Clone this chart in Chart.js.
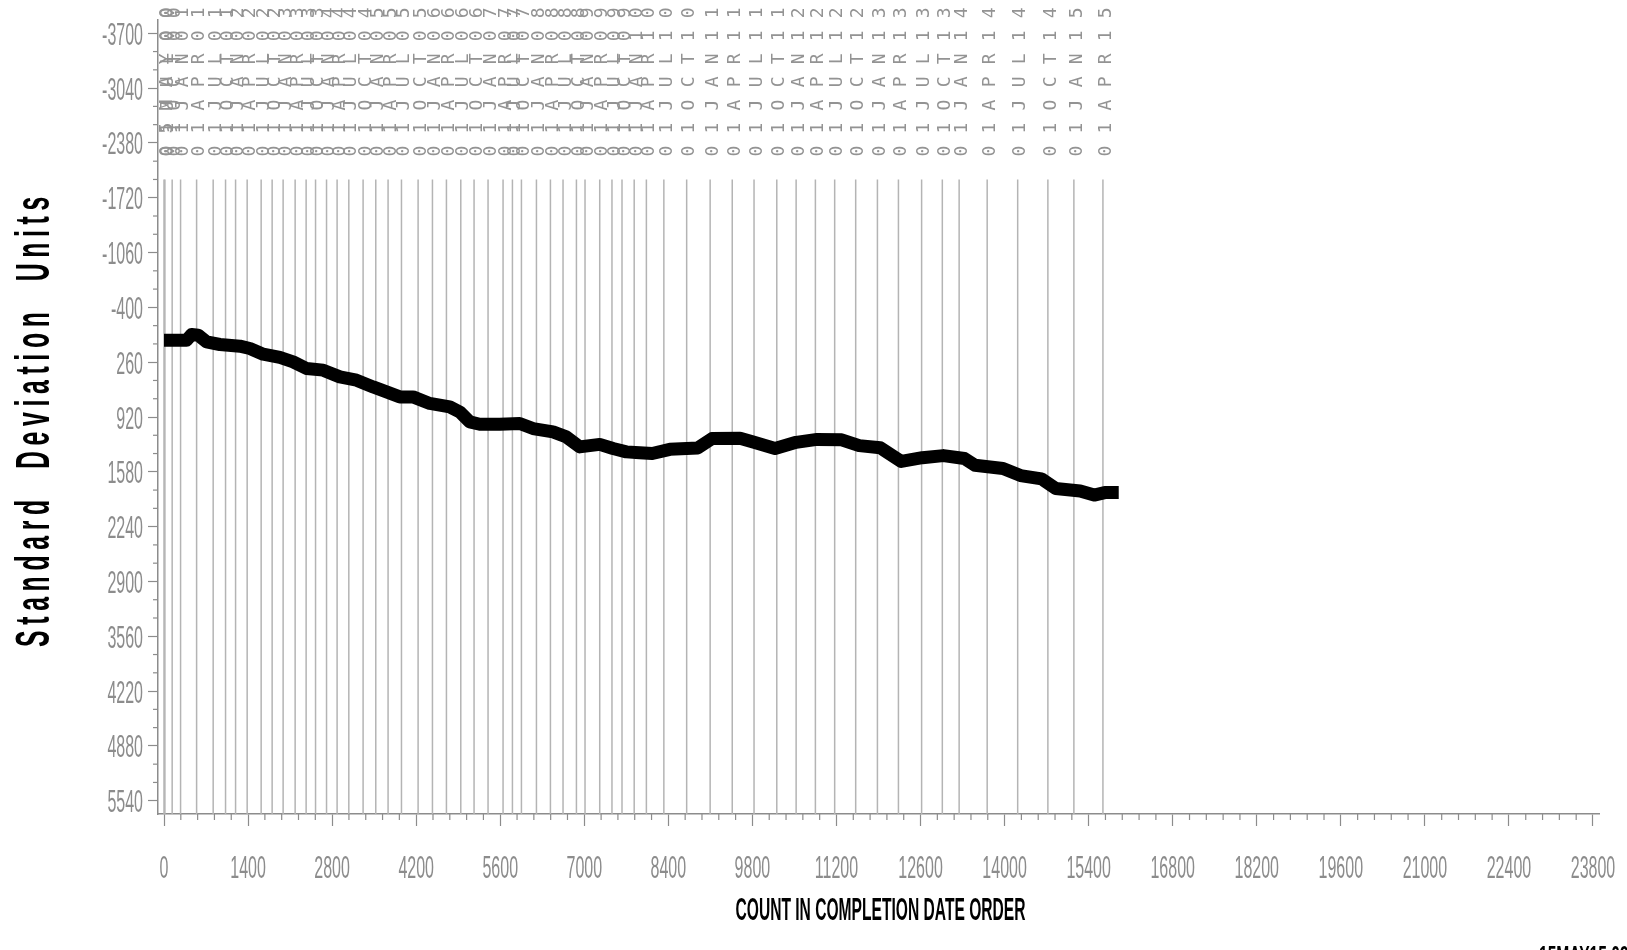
<!DOCTYPE html>
<html>
<head>
<meta charset="utf-8">
<script src="https://cdn.jsdelivr.net/npm/chart.js@4/dist/chart.umd.min.js"></script>
<style>
  html, body { margin: 0; padding: 0; background: #fff; overflow: hidden; }
  #wrap { width: 1627px; height: 950px; position: relative; }
</style>
</head>
<body>
<div id="wrap"><canvas id="chart"></canvas></div>
<script>
// cumulative count (x) vs standard deviation units (y)
const countX = [0, 376, 459, 569, 709, 931, 1264, 1430, 1651, 1929, 2151, 2374, 2650, 2928,
  3206, 3483, 3706, 3927, 4148, 4426, 4759, 4926, 5092, 5259, 5592, 5924, 6146, 6479, 6702,
  6923, 7257, 7478, 7700, 7922, 8132, 8425, 8891, 9126, 9594, 9827, 10177, 10528, 10877,
  11287, 11578, 11929, 12280, 12630, 12981, 13331, 13506, 13974, 14265, 14616, 14849, 15259,
  15492, 15668, 15901];
const sdUnits = [-5, -5, -74, -65, 16, 47, 67, 95, 164, 203, 256, 336, 356, 437,
  477, 558, 618, 678, 678, 757, 798, 859, 979, 1007, 1007, 998, 1059, 1100, 1160,
  1280, 1250, 1300, 1340, 1350, 1360, 1309, 1292, 1180, 1175, 1225, 1300, 1225, 1190,
  1195, 1265, 1290, 1455, 1410, 1385, 1420, 1500, 1540, 1625, 1665, 1780, 1810,
  1860, 1830, 1830];

// completion date reference lines
const dateLabels = ['05MAY00', '01JUL00', '01OCT00',
  '01JAN01', '01APR01', '01JUL01', '01OCT01', '01JAN02', '01APR02', '01JUL02', '01OCT02',
  '01JAN03', '01APR03', '01JUL03', '01OCT03', '01JAN04', '01APR04', '01JUL04', '01OCT04',
  '01JAN05', '01APR05', '01JUL05', '01OCT05', '01JAN06', '01APR06', '01JUL06', '01OCT06',
  '01JAN07', '01APR07', '01JUL07', '01OCT07', '01JAN08', '01APR08', '01JUL08', '01OCT08',
  '01JAN09', '01APR09', '01JUL09', '01OCT09', '01JAN10', '01APR10', '01JUL10', '01OCT10',
  '01JAN11', '01APR11', '01JUL11', '01OCT11', '01JAN12', '01APR12', '01JUL12', '01OCT12',
  '01JAN13', '01APR13', '01JUL13', '01OCT13', '01JAN14', '01APR14', '01JUL14', '01OCT14',
  '01JAN15', '01APR15'];
const dateCounts = [0, 15, 136,
  276, 543, 819, 1025, 1192, 1385, 1618, 1801,
  1984, 2184, 2367, 2524, 2707, 2883, 3078, 3316,
  3527, 3732, 3955, 4232, 4471, 4704, 4943, 5164,
  5397, 5647, 5803, 5953, 6203, 6436, 6646, 6869,
  7012, 7257, 7461, 7628, 7831, 8034, 8325, 8705,
  9096, 9464, 9827, 10206, 10528, 10849, 11170, 11520,
  11882, 12232, 12618, 12963, 13243, 13710, 14218, 14721,
  15154, 15638];

const xMajorTicks = [0, 1400, 2800, 4200, 5600, 7000, 8400, 9800, 11200, 12600, 14000,
  15400, 16800, 18200, 19600, 21000, 22400, 23800];
const yMajorTicks = [-3700, -3040, -2380, -1720, -1060, -400, 260, 920, 1580, 2240,
  2900, 3560, 4220, 4880, 5540];
const X_MINOR_PER = 5;
const Y_MINOR_PER = 3;
const DATE_LINE_TOP = -1940;

const X_TITLE = 'COUNT IN COMPLETION DATE ORDER';
const Y_TITLE = 'Standard  Deviation  Units';
const STAMP = '15MAY15 09:58';

function withMinors(majors, per) {
  const out = [];
  for (let i = 0; i < majors.length; i++) {
    out.push({ value: majors[i], major: true });
    if (i < majors.length - 1) {
      const step = (majors[i + 1] - majors[i]) / per;
      for (let k = 1; k < per; k++) out.push({ value: majors[i] + k * step, major: false });
    }
  }
  return out;
}

const axisGrey = '#8c8c8c';
const labelFont = "32px 'Liberation Sans', sans-serif";
const titleFamily = "'Liberation Sans', sans-serif";

// draw text squeezed horizontally (the original uses a very narrow font)
function squeezed(ctx, text, x, y, sx, align) {
  ctx.save();
  ctx.translate(x, y);
  ctx.scale(sx, 1);
  ctx.textAlign = align;
  ctx.fillText(text, 0, 0);
  ctx.restore();
}

// text fitted to a given length, centred on (cx, cy), optionally rotated
function fitted(ctx, text, cx, cy, len, rot) {
  ctx.save();
  ctx.translate(cx, cy);
  if (rot) ctx.rotate(rot);
  const w = ctx.measureText(text).width;
  ctx.scale(len / w, 1);
  ctx.textAlign = 'center';
  ctx.textBaseline = 'middle';
  ctx.fillText(text, 0, 0);
  ctx.restore();
}

const dateLines = {
  id: 'dateLines',
  beforeDatasetsDraw(chart) {
    const { ctx, chartArea, scales: { x, y } } = chart;
    ctx.save();
    ctx.strokeStyle = '#b4b4b4';
    ctx.lineWidth = 1.5;
    const top = y.getPixelForValue(DATE_LINE_TOP);
    dateCounts.forEach(v => {
      const px = x.getPixelForValue(v);
      ctx.beginPath();
      ctx.moveTo(px, top);
      ctx.lineTo(px, chartArea.bottom);
      ctx.stroke();
    });
    ctx.restore();
  },
  afterDraw(chart) {
    const { ctx, chartArea, scales: { x, y } } = chart;
    ctx.save();

    // date labels, reading bottom to top
    ctx.fillStyle = '#939393';
    ctx.font = "18px 'DejaVu Sans Mono'";
    ctx.letterSpacing = '12.2px';
    ctx.textAlign = 'left';
    ctx.textBaseline = 'middle';
    const base = y.getPixelForValue(DATE_LINE_TOP) - 23;
    dateCounts.forEach((v, i) => {
      const px = x.getPixelForValue(v);
      ctx.save();
      ctx.translate(px + 3, base);
      ctx.rotate(-Math.PI / 2);
      ctx.fillText(dateLabels[i], 0, 0);
      ctx.restore();
    });

    // minor tick marks
    ctx.letterSpacing = '0px';
    ctx.strokeStyle = axisGrey;
    ctx.lineWidth = 1.2;
    x.ticks.filter(t => !t.major).forEach(t => {
      const px = x.getPixelForValue(t.value);
      ctx.beginPath(); ctx.moveTo(px, chartArea.bottom); ctx.lineTo(px, chartArea.bottom + 6); ctx.stroke();
    });
    y.ticks.filter(t => !t.major).forEach(t => {
      const py = y.getPixelForValue(t.value);
      ctx.beginPath(); ctx.moveTo(chartArea.left - 5, py); ctx.lineTo(chartArea.left, py); ctx.stroke();
    });

    // tick labels
    ctx.fillStyle = axisGrey;
    ctx.font = labelFont;
    ctx.textBaseline = 'alphabetic';
    xMajorTicks.forEach(v => {
      squeezed(ctx, String(v), x.getPixelForValue(v), chartArea.bottom + 64, 0.5, 'center');
    });
    yMajorTicks.forEach(v => {
      squeezed(ctx, String(v), chartArea.left - 15, y.getPixelForValue(v) + 11.5, 0.5, 'right');
    });

    // axis titles
    ctx.fillStyle = '#000';
    ctx.font = 'bold 48px ' + titleFamily;
    ctx.letterSpacing = '11px';
    fitted(ctx, Y_TITLE, 36, (chartArea.top + chartArea.bottom) / 2 + 2, 456, -Math.PI / 2);
    ctx.letterSpacing = '0px';
    ctx.font = 'bold 31px ' + titleFamily;
    fitted(ctx, X_TITLE, (chartArea.left + chartArea.right) / 2 + 2, 911, 290, 0);

    // run stamp, cut off at the bottom edge
    ctx.font = 'bold 26px ' + titleFamily;
    ctx.textBaseline = 'top';
    squeezed(ctx, STAMP, 1539, 944, 0.6, 'left');
    ctx.restore();
  }
};

new Chart(document.getElementById('chart'), {
  type: 'line',
  data: {
    datasets: [{
      data: countX.map((v, i) => ({ x: v, y: sdUnits[i] })),
      borderColor: '#000',
      borderWidth: 13,
      borderJoinStyle: 'round',
      borderCapStyle: 'butt',
      pointRadius: 0,
      tension: 0,
      fill: false
    }]
  },
  options: {
    responsive: true,
    maintainAspectRatio: false,
    animation: false,
    layout: { padding: { left: 0, top: 20, right: 28, bottom: 0 } },
    plugins: { legend: { display: false }, tooltip: { enabled: false } },
    scales: {
      x: {
        type: 'linear',
        min: -100,
        max: 23900,
        afterBuildTicks: s => { s.ticks = withMinors(xMajorTicks, X_MINOR_PER); },
        afterFit: s => { s.height = 136; },
        border: { display: true, color: axisGrey, width: 1.5 },
        grid: {
          drawOnChartArea: false,
          drawTicks: true,
          tickLength: 12,
          tickWidth: 1.2,
          tickColor: c => (c.tick && c.tick.major ? axisGrey : 'rgba(0,0,0,0)')
        },
        ticks: { display: false, autoSkip: false, maxRotation: 0 },
        title: { display: false }
      },
      y: {
        type: 'linear',
        reverse: true,
        min: -3860,
        max: 5700,
        afterBuildTicks: s => { s.ticks = withMinors(yMajorTicks, Y_MINOR_PER); },
        afterFit: s => { s.width = 158; },
        border: { display: true, color: axisGrey, width: 1.5 },
        grid: {
          drawOnChartArea: false,
          drawTicks: true,
          tickLength: 10,
          tickWidth: 1.2,
          tickColor: c => (c.tick && c.tick.major ? axisGrey : 'rgba(0,0,0,0)')
        },
        ticks: { display: false, autoSkip: false },
        title: { display: false }
      }
    }
  },
  plugins: [dateLines]
});
</script>
</body>
</html>
